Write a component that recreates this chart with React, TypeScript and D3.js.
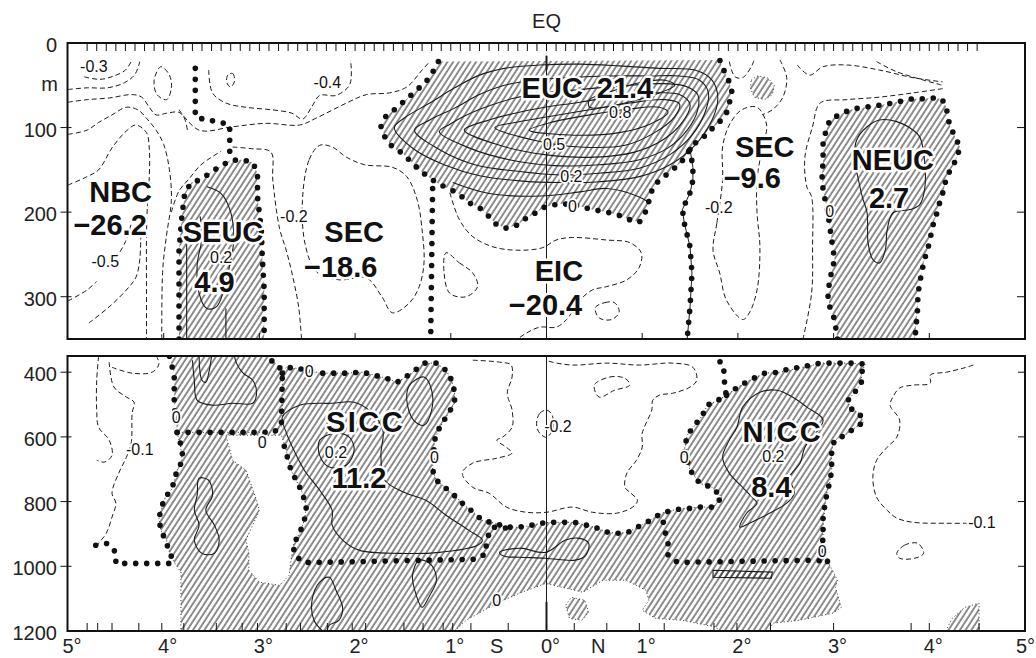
import * as d3 from 'd3'

type P = [number, number]

// axis ticks / labels (x = latitude, negative = south; y = depth in m)
const upperDepthTicks = [0, 100, 200, 300]
const lowerDepthTicks = [400, 600, 800, 1000, 1200]
const upperRightTicks = [100, 200, 300]
const lowerRightTicks = [400, 600, 800, 1000]
const degreeTicks = [-4, -3, -2, -1, 0, 1, 2, 3, 4]
const stationTicks = [-4.8, -4.69, -4.54, -4.26, -4.02, -3.79, -3.45, -3.18, -3.02, -2.72, -2.57, -2.29, -2.03, -1.89, -1.49, -1.29, -1.08, -0.98, -0.79, -0.4, 0, 0.29, 0.63, 0.97, 1.23, 1.75, 1.99, 2.34, 3.0, 3.81, 4.0, 4.52]
const latLabels: [number, string][] = [[-5, '5°'], [-4, '4°'], [-3, '3°'], [-2, '2°'], [-1, '1°'], [0, '0°'], [1, '1°'], [2, '2°'], [3, '3°'], [4, '4°'], [5, '5°']]
const hemiLabels: [number, string][] = [[-0.52, 'S'], [0.54, 'N']]

// ---------- upper panel (0-350 m) ----------
const eucHatch: P[] = [[-1.13,22],[-1.22,41],[-1.33,53],[-1.45,65],[-1.57,77],[-1.68,87],[-1.73,99],[-1.69,111],[-1.61,123],[-1.51,130],[-1.41,141],[-1.33,150],[-1.24,158],[-1.15,165],[-1.05,171],[-0.93,177],[-0.81,189],[-0.70,195],[-0.62,203],[-0.52,215],[-0.42,219],[-0.30,215],[-0.21,207],[-0.10,200],[-0.02,194],[0.14,190],[0.27,191],[0.38,194],[0.48,197],[0.63,200],[0.74,203],[0.87,209],[0.97,212],[1.03,201],[1.06,191],[1.08,183],[1.11,171],[1.18,162],[1.32,150],[1.42,139],[1.50,126],[1.58,115],[1.67,109],[1.74,100],[1.81,93],[1.88,83],[1.91,71],[1.94,59],[1.91,46],[1.86,34],[1.81,20]]
const seucBox: P[] = [[-3.84,350],[-3.84,290],[-3.84,245],[-3.81,205],[-3.78,177],[-3.71,165],[-3.60,161],[-3.50,152],[-3.39,145],[-3.31,139],[-3.18,138],[-3.07,141],[-3.02,154],[-3.02,182],[-2.98,221],[-2.97,253],[-2.95,292],[-2.95,350]]
const nbcDivide: P[] = [[-3.67,30],[-3.67,87],[-3.56,91],[-3.43,93],[-3.31,97],[-3.31,120],[-3.31,139]]
const eicDivide: P[] = [[-1.19,172],[-1.20,260],[-1.21,350]]
const secEastDivide: P[] = [[1.50,126],[1.53,147],[1.53,162],[1.50,177],[1.42,197],[1.44,213],[1.50,241],[1.52,272],[1.50,312],[1.47,350]]
const neucBox: P[] = [[3.04,350],[3.01,327],[2.96,312],[2.94,298],[2.96,280],[3.01,256],[2.99,241],[2.96,217],[2.94,201],[2.89,174],[2.88,158],[2.89,138],[2.89,115],[2.96,91],[3.09,83],[3.20,78],[3.33,76],[3.45,74],[3.57,72],[3.69,69],[3.82,66],[3.92,66],[4.03,65],[4.13,66],[4.18,76],[4.19,87],[4.22,99],[4.27,111],[4.32,123],[4.29,135],[4.24,147],[4.18,158],[4.15,174],[4.11,188],[4.08,201],[4.04,215],[3.99,241],[3.95,256],[3.92,271],[3.90,284],[3.88,298],[3.88,312],[3.87,325],[3.85,350]]
const upperBlob: P[] = [[2.14,44],[2.20,39],[2.31,41],[2.38,50],[2.36,61],[2.28,67],[2.17,64],[2.13,53]]

// EUC solid isotachs, outer to core
const eucLoops: P[][] = [
  [[-1.59,100],[-1.38,126],[-1.07,144],[-0.70,157],[-0.28,163],[0.14,165],[0.55,164],[0.97,158],[1.29,144],[1.55,121],[1.73,91],[1.79,65],[1.73,44],[1.55,32],[1.18,30],[0.76,27],[0.35,25],[-0.07,26],[-0.44,30],[-0.70,38],[-0.96,53],[-1.22,71],[-1.49,89]],
  [[-1.38,103],[-1.12,126],[-0.75,144],[-0.28,152],[0.14,156],[0.55,154],[0.97,148],[1.29,132],[1.52,109],[1.66,81],[1.69,58],[1.60,44],[1.39,39],[1.08,39],[0.66,39],[0.24,41],[-0.13,44],[-0.44,50],[-0.70,61],[-0.96,77],[-1.22,91]],
  [[-1.12,105],[-0.81,124],[-0.39,138],[0.08,145],[0.55,144],[0.97,138],[1.27,124],[1.47,103],[1.58,79],[1.58,61],[1.45,51],[1.18,48],[0.76,51],[0.35,55],[-0.02,59],[-0.33,65],[-0.59,74],[-0.85,86],[-1.01,96]],
  [[-0.86,103],[-0.49,121],[-0.02,132],[0.50,135],[0.92,129],[1.21,115],[1.41,95],[1.50,73],[1.39,61],[1.13,59],[0.76,62],[0.35,70],[-0.02,76],[-0.33,83],[-0.60,91]],
  [[-0.54,100],[-0.13,115],[0.35,123],[0.82,121],[1.13,106],[1.34,87],[1.39,72],[1.24,67],[0.87,71],[0.45,79],[0.03,87],[-0.33,94]],
  [[-0.18,103],[0.29,109],[0.76,106],[1.08,96],[1.27,82],[1.18,76],[0.87,78],[0.45,85],[0.08,93]],
  [[0.45,76],[0.82,71],[1.13,61],[1.34,50],[1.24,44],[0.97,47],[0.66,58],[0.45,67]],
]
const eucZero: P[] = [[-0.98,165],[-0.60,178],[-0.07,181],[0.35,176],[0.63,172],[0.97,182],[1.06,188]]
const neucCore: P[] = [[3.24,115],[3.35,99],[3.48,91],[3.66,93],[3.83,103],[3.90,111],[3.95,138],[3.95,174],[3.90,191],[3.80,197],[3.62,201],[3.56,221],[3.54,245],[3.48,260],[3.41,256],[3.36,236],[3.35,201],[3.30,182],[3.26,162],[3.22,138]]
const seucCore: P[] = [[-3.55,170],[-3.40,178],[-3.30,200],[-3.27,235],[-3.32,268],[-3.37,292],[-3.45,312],[-3.55,314],[-3.63,296],[-3.65,262],[-3.60,230],[-3.62,205]]
const seucStems: P[][] = [[[-3.76,238],[-3.76,350]], [[-3.35,314],[-3.35,350]]]

const upperDashed: P[][] = [
  [[-4.83,40],[-4.67,43],[-4.52,39],[-4.40,32],[-4.33,20]],
  [[-5,55],[-4.80,53],[-4.59,53],[-4.41,47],[-4.30,37],[-4.25,22]],
  [[-5,70],[-4.80,67],[-4.57,65],[-4.33,61],[-4.23,64],[-4.15,76],[-4.08,85],[-3.97,83],[-3.84,82],[-3.78,90],[-3.75,105]],
  [[-5,108],[-4.80,103],[-4.68,94],[-4.54,85],[-4.39,76],[-4.27,79],[-4.18,89],[-4.08,103],[-4.00,120],[-3.94,150],[-3.92,186],[-3.97,227],[-4.01,268],[-4.02,350]],
  [[-5,168],[-4.80,158],[-4.68,150],[-4.54,124],[-4.39,104],[-4.29,97],[-4.18,106],[-4.15,126],[-4.15,156],[-4.17,191],[-4.18,233],[-4.18,292],[-4.18,350]],
  [[-4.78,331],[-4.57,312],[-4.39,292],[-4.29,277],[-4.25,256],[-4.24,230]],
  [[-5,305],[-4.80,292],[-4.70,282]],
  [[-4.50,255],[-4.40,235],[-4.33,210]],
  [[-3.92,200],[-3.84,175],[-3.73,160],[-3.62,145],[-3.50,135],[-3.40,128]],
  [[-3.53,32],[-3.49,59],[-3.35,71],[-3.14,76],[-2.87,79],[-2.66,83],[-2.55,90],[-2.45,75],[-2.37,62],[-2.20,62],[-2.06,50],[-2.04,30],[-2.05,20]],
  [[-3.28,123],[-3.08,125],[-2.88,129],[-2.86,162],[-2.79,219],[-2.72,245],[-2.66,272],[-2.59,312],[-2.56,350]],
  [[-3.84,79],[-3.63,103],[-3.28,99],[-2.93,95],[-2.58,97],[-2.41,89],[-2.09,71],[-1.88,61],[-1.64,59],[-1.46,52],[-1.30,32],[-1.22,22]],
  [[-1.01,177],[-0.91,209],[-0.77,229],[-0.56,241],[-0.31,245],[-0.04,242],[0.10,233],[0.27,230],[0.63,233],[0.87,236],[0.99,248],[0.97,265],[0.84,280],[0.63,288],[0.48,292],[0.35,304],[0.21,327],[0.10,336],[-0.07,336],[-0.21,343],[-0.30,350]],
  [[1.91,22],[1.97,40],[2.05,41],[2.14,28],[2.17,20]],
  [[2.44,20],[2.51,41],[2.47,64],[2.36,79],[2.25,85]],
  [[4.14,54],[3.83,59],[3.48,64],[3.14,67],[2.86,71],[2.78,99],[2.70,135],[2.72,170],[2.77,182],[2.78,241],[2.77,296],[2.68,350]],
  [[2.62,26],[2.75,38],[2.89,28],[3.14,26],[3.48,32],[3.83,41],[4.14,46]],
  [[3.45,22],[3.66,34],[4.14,50]],
]
const upperDashedLoops: P[][] = [
  [[-2.55,186],[-2.48,138],[-2.37,121],[-2.24,123],[-2.09,135],[-1.90,144],[-1.61,147],[-1.46,158],[-1.35,186],[-1.30,221],[-1.28,260],[-1.33,288],[-1.43,307],[-1.61,319],[-1.72,300],[-1.88,278],[-2.17,280],[-2.40,271],[-2.52,239]],
  [[-3.33,38],[-3.28,36],[-3.26,45],[-3.30,52],[-3.34,47]],
  [[-4.03,28],[-3.94,38],[-3.92,53],[-3.97,67],[-4.07,61],[-4.10,44]],
  [[-1.05,248],[-0.91,260],[-0.77,272],[-0.72,288],[-0.84,300],[-1.01,296],[-1.07,272]],
  [[0.51,313],[0.61,307],[0.71,307],[0.76,318],[0.68,327],[0.55,325]],
  [[1.84,162],[1.78,213],[1.74,245],[1.81,272],[1.88,304],[2.05,327],[2.12,319],[2.20,292],[2.23,241],[2.20,201],[2.20,162],[2.25,126],[2.30,97],[2.20,76],[2.04,79],[1.91,97],[1.84,123]],
]

// ---------- lower panel (350-1200 m) ----------
const seucLowerHatch: P[] = [[-3.94,350],[-2.93,350],[-2.80,378],[-2.76,403],[-2.76,564],[-2.85,586],[-3.86,586],[-3.89,496],[-3.89,409]]
const lowerHatch: P[] = [[-3.86,586],[-3.82,635],[-3.81,672],[-3.86,703],[-3.91,759],[-4.00,796],[-4.05,851],[-4.03,889],[-3.97,919],[-3.94,957],[-3.89,988],[-3.82,1018],[-3.82,1200],[-0.96,1200],[-0.84,1167],[-0.52,1114],[-0.28,1083],[-0.01,1053],[0.38,1080],[0.59,1043],[0.83,1043],[1.04,1074],[1.07,1105],[1.00,1136],[1.14,1161],[1.42,1167],[1.77,1188],[1.81,1200],[2.33,1200],[2.36,1176],[2.64,1167],[2.99,1145],[3.08,1127],[3.02,1065],[3.04,1043],[2.95,991],[2.89,941],[2.89,879],[2.91,811],[2.93,774],[2.96,740],[2.98,703],[2.98,641],[3.01,610],[3.12,595],[3.22,573],[3.31,555],[3.27,527],[3.17,511],[3.15,487],[3.22,462],[3.29,434],[3.29,403],[3.33,375],[3.14,372],[2.89,372],[2.67,385],[2.44,400],[2.28,403],[2.12,425],[2.00,446],[1.88,471],[1.79,487],[1.68,502],[1.63,533],[1.55,564],[1.47,595],[1.44,641],[1.50,703],[1.60,743],[1.73,756],[1.83,787],[1.74,817],[1.58,817],[1.36,824],[1.23,833],[1.13,848],[1.05,864],[0.95,879],[0.85,895],[0.74,898],[0.64,895],[0.53,882],[0.42,873],[0.29,864],[0.17,864],[0.05,864],[-0.07,867],[-0.20,876],[-0.31,879],[-0.42,879],[-0.54,867],[-0.67,858],[-0.75,836],[-0.86,811],[-0.94,787],[-1.05,759],[-1.15,734],[-1.19,703],[-1.17,610],[-1.12,573],[-1.05,539],[-0.96,496],[-0.96,462],[-0.99,425],[-1.05,394],[-1.15,372],[-1.28,372],[-1.41,403],[-1.56,431],[-1.67,419],[-1.92,400],[-2.11,403],[-2.35,403],[-2.60,388],[-2.72,385],[-2.76,403],[-2.76,564],[-2.85,586]]
const lowerNotch: P[] = [[-3.35,595],[-2.77,595],[-2.72,641],[-2.67,703],[-2.60,743],[-2.55,774],[-2.51,817],[-2.53,858],[-2.58,898],[-2.64,929],[-2.66,960],[-2.69,1028],[-2.79,1059],[-3.00,1049],[-3.11,1012],[-3.11,960],[-3.14,919],[-3.08,879],[-3.00,827],[-3.03,796],[-3.14,703],[-3.28,672]]
const lowerBlobs: P[][] = [
  [[0.20,1120],[0.26,1096],[0.40,1105],[0.44,1142],[0.37,1167],[0.24,1161]],
  [[4.17,1200],[4.24,1161],[4.37,1127],[4.52,1114],[4.52,1200]],
]
const lowerBar: P[] = [[1.74,1012],[2.36,1018],[2.35,1037],[1.74,1034]]

const lowerDots: P[][] = [
  [[-3.94,351],[-3.89,409],[-3.89,496],[-3.88,540],[-3.86,586],[-3.81,635],[-3.80,672],[-3.86,703],[-3.91,756],[-4.00,796],[-4.05,851],[-4.03,889],[-3.98,919],[-3.94,957],[-3.89,988]],
  [[-3.86,586],[-2.85,586],[-2.77,564],[-2.76,403],[-2.80,378],[-2.93,354]],
  [[-4.71,935],[-4.59,929],[-4.50,957],[-4.50,991],[-3.89,991]],
  [[-2.76,403],[-2.72,385],[-2.60,388],[-2.35,403],[-2.11,403],[-1.92,400],[-1.67,419],[-1.56,431],[-1.41,403],[-1.28,372],[-1.15,372],[-1.05,394],[-0.99,425],[-0.96,462],[-0.96,496],[-1.05,539],[-1.12,573],[-1.17,610],[-1.19,703],[-1.15,734],[-1.05,759],[-0.94,787],[-0.86,811],[-0.75,836],[-0.67,858],[-0.54,867],[-0.42,879],[-0.31,879],[-0.20,876],[-0.07,867],[0.05,864],[0.17,864],[0.29,864],[0.42,873],[0.53,882],[0.64,895],[0.74,898],[0.85,895],[0.95,879],[1.05,864],[1.13,848],[1.23,833],[1.36,824],[1.50,821],[1.58,817],[1.74,817],[1.83,787],[1.73,756],[1.60,743],[1.50,703],[1.44,641],[1.47,595],[1.55,564],[1.63,533],[1.68,502],[1.79,487],[1.88,471],[1.86,446],[1.86,409],[1.84,372],[1.74,357]],
  [[-2.74,629],[-2.67,703],[-2.60,743],[-2.55,774],[-2.51,817],[-2.53,858],[-2.58,898],[-2.64,929],[-2.64,960],[-2.55,988],[-2.41,988],[-0.73,978],[-0.63,960],[-0.63,929],[-0.60,898],[-0.56,879],[-0.42,882]],
  [[1.88,471],[2.00,446],[2.12,425],[2.28,403],[2.44,400],[2.54,388],[2.67,385],[2.78,375],[2.89,372],[3.01,372],[3.14,372],[3.24,372],[3.33,375],[3.29,403],[3.29,434],[3.22,462],[3.15,487],[3.17,511],[3.27,527],[3.31,555],[3.22,573],[3.12,595],[3.01,610],[2.98,641],[2.98,703],[2.96,740],[2.93,774],[2.91,811],[2.89,842],[2.89,879],[2.89,910],[2.88,941],[2.94,988]],
  [[1.22,864],[1.24,895],[1.27,929],[1.27,966],[1.37,988],[2.81,981],[2.94,988]],
]
const lowerDashed: P[][] = [
  [[-4.68,351],[-4.70,425],[-4.70,517],[-4.68,570],[-4.57,610],[-4.54,657],[-4.62,678],[-4.70,672]],
  [[-4.57,369],[-4.52,446],[-4.39,477],[-4.31,493],[-4.33,527],[-4.34,620],[-4.39,663],[-4.47,712],[-4.54,774],[-4.50,805],[-4.54,848],[-4.60,898],[-4.68,929],[-4.71,944]],
  [[-4.54,385],[-4.33,403],[-4.12,400],[-4.05,375],[-4.07,354]],
  [[4.46,378],[4.35,388],[4.18,400],[4.01,409],[4.01,434],[3.83,440],[3.69,449],[3.62,477],[3.59,502],[3.69,548],[3.66,601],[3.56,632],[3.45,672],[3.41,725],[3.45,787],[3.56,827],[3.66,851],[3.83,864],[4.18,867],[4.39,867]],
  [[-0.77,363],[-0.49,369],[-0.37,378],[-0.36,415],[-0.41,465],[-0.36,517],[-0.36,570],[-0.46,601],[-0.52,610],[-0.42,632],[-0.36,650],[-0.52,666],[-0.77,681],[-0.88,712],[-0.77,756],[-0.60,774],[-0.42,817],[-0.21,833],[0,833],[0.27,817],[0.48,833],[0.73,836],[0.90,817],[0.95,796],[0.87,771],[0.82,756],[0.84,712],[0.94,672],[1.00,632],[1.00,589],[1.10,517],[1.11,487],[1.18,471],[1.32,465],[1.50,446],[1.57,425],[1.53,385],[1.32,372],[0.97,378],[0.63,372],[0.27,378],[0.06,369],[0,363]],
]
const lowerDashedLoops: P[][] = [
  [[-0.10,548],[-0.07,527],[0,517],[0.06,533],[0.06,579],[0,601],[-0.07,589],[-0.10,570]],
  [[0.50,440],[0.66,415],[0.82,419],[0.87,440],[0.71,456],[0.55,477]],
  [[3.66,960],[3.74,935],[3.88,929],[3.94,960],[3.85,975],[3.69,975]],
]
const lowerSolid: P[][] = [
  [[-3.70,363],[-3.68,425],[-3.65,487],[-3.49,502],[-3.28,496],[-3.07,496],[-3.03,465],[-3.07,425],[-3.17,403],[-3.24,372],[-3.26,351]],
  [[-3.63,351],[-3.60,425],[-3.56,431],[-3.53,403],[-3.50,351]],
  [[-2.34,1200],[-2.43,1167],[-2.45,1105],[-2.37,1049],[-2.27,1034],[-2.20,1074],[-2.13,1130],[-2.17,1167],[-2.27,1182],[-2.29,1200]],
]
const lowerSolidLoops: P[][] = [
  [[-2.76,539],[-2.58,502],[-2.24,496],[-2.01,493],[-1.83,524],[-1.71,579],[-1.73,657],[-1.69,734],[-1.49,771],[-1.26,796],[-1.05,842],[-0.81,889],[-0.67,919],[-0.72,935],[-1.12,957],[-1.54,960],[-1.96,950],[-2.13,919],[-2.24,873],[-2.24,827],[-2.37,765],[-2.53,703],[-2.64,641],[-2.72,586]],
  [[-2.37,610],[-2.21,589],[-2.06,601],[-2.01,641],[-2.09,687],[-2.27,693],[-2.37,657]],
  [[-1.43,440],[-1.28,415],[-1.20,456],[-1.20,517],[-1.28,564],[-1.39,548],[-1.46,487]],
  [[-3.63,728],[-3.53,734],[-3.49,780],[-3.56,827],[-3.47,873],[-3.42,919],[-3.47,960],[-3.60,960],[-3.68,919],[-3.63,873],[-3.68,827],[-3.65,780]],
  [[-1.33,981],[-1.40,1028],[-1.36,1090],[-1.30,1127],[-1.22,1090],[-1.15,1043],[-1.20,997]],
  [[-0.49,957],[-0.28,944],[-0.01,957],[0.20,919],[0.33,913],[0.44,929],[0.41,966],[0.30,981],[-0.01,975],[-0.28,972],[-0.44,969]],
  [[2.23,462],[2.41,456],[2.57,477],[2.72,508],[2.89,548],[2.70,632],[2.65,681],[2.54,725],[2.59,774],[2.51,805],[2.33,836],[2.12,867],[2.02,879],[2.09,836],[2.20,805],[2.15,787],[2.05,756],[1.91,712],[1.84,663],[1.91,610],[1.99,570],[2.05,508]],
]

// labels: [text, lat, depth of baseline]
const upperBig: [string, number, number][] = [['NBC',-4.45,188],['−26.2',-4.56,227],['SEUC',-3.38,235],['4.9',-3.47,294],['SEC',-2.01,235],['−18.6',-2.15,277],['EIC',0.13,282],['−20.4',-0.01,322],['EUC',0.06,65],['21.4',0.82,65],['SEC',2.28,135],['−9.6',2.15,171],['NEUC',3.62,150],['2.7',3.58,195]]
const lowerBig: [string, number, number][] = [['SICC',-1.89,586],['11.2',-1.96,759],['NICC',2.47,616],['8.4',2.35,787]]
const upperSmall: [string, number, number][] = [['-0.3',-4.73,34],['-0.4',-2.29,53],['0.8',0.77,89],['0.5',0.08,126],['0.2',0.26,164],['0',0.27,200],['-0.5',-4.61,265],['0.2',-3.40,260],['-0.2',-2.64,212],['-0.2',1.80,201],['0',2.96,206]]
const lowerSmall: [string, number, number][] = [['0',-3.87,558],['0',-2.48,415],['0',-2.97,635],['0',-1.17,681],['0',1.44,681],['0',2.88,972],['0',-0.52,1124],['0.2',-2.20,666],['0.2',2.37,678],['-0.1',-4.25,657],['-0.1',4.55,882],['-0.2',0.12,586]]
const spacedLabels = new Set(['SICC', 'NICC'])

export default function App() {
  const W = 1036
  const H = 658
  const ink = '#1c1c1c'
  const font = "'Liberation Sans', Arial, Helvetica, sans-serif"

  const x = d3.scaleLinear().domain([-5, 5]).range([68, 1025])
  const yU = d3.scaleLinear().domain([0, 350]).range([43, 339])
  const yL = d3.scaleLinear().domain([350, 1200]).range([356, 631])

  const gen = (y: d3.ScaleLinear<number, number>, curve: d3.CurveFactory) =>
    d3.line<P>().x(d => x(d[0])).y(d => y(d[1])).curve(curve)

  const uPoly = gen(yU, d3.curveLinearClosed)
  const uLine = gen(yU, d3.curveLinear)
  const uSmooth = gen(yU, d3.curveCatmullRom.alpha(0.5))
  const uLoop = gen(yU, d3.curveCatmullRomClosed.alpha(0.5))
  const lPoly = gen(yL, d3.curveLinearClosed)
  const lLine = gen(yL, d3.curveLinear)
  const lSmooth = gen(yL, d3.curveCatmullRom.alpha(0.5))
  const lLoop = gen(yL, d3.curveCatmullRomClosed.alpha(0.5))

  const x0 = x(-5) - 0.5
  const x1 = x(5)
  const dashed = { fill: 'none', stroke: ink, strokeWidth: 1, strokeDasharray: '5 3' }
  const solid = { fill: 'none', stroke: ink, strokeWidth: 1.1 }
  const dots = { fill: 'none', stroke: '#111', strokeWidth: 5.6, strokeDasharray: '0 11', strokeLinecap: 'round' as const }
  const fine = { fill: 'none', stroke: '#333', strokeWidth: 1, strokeDasharray: '1 2.5' }
  const halo = { paintOrder: 'stroke', stroke: '#fff', strokeLinejoin: 'round' as const }

  const bigText = (t: [string, number, number], y: d3.ScaleLinear<number, number>, k: number) => (
    <text key={k} x={x(t[1])} y={y(t[2])} textAnchor="middle" fontSize={29} fontWeight="bold" fill="#111"
      letterSpacing={spacedLabels.has(t[0]) ? 2.5 : 0} style={halo} strokeWidth={5}>{t[0]}</text>
  )
  const smallText = (t: [string, number, number], y: d3.ScaleLinear<number, number>, k: number) => (
    <text key={k} x={x(t[1])} y={y(t[2])} textAnchor="middle" fontSize={16} fill="#111" style={halo} strokeWidth={3.5}>{t[0]}</text>
  )

  return (
    <svg width={W} height={H} style={{ position: 'absolute', left: 0, top: 0, background: '#fff' }} fontFamily={font}>
      <defs>
        <pattern id="hatch" width="4.8" height="4.8" patternUnits="userSpaceOnUse" patternTransform="rotate(33)">
          <line x1="1" y1="-1" x2="1" y2="6" stroke="#111" strokeWidth="0.95" />
        </pattern>
        <clipPath id="clipU"><rect x={x0} y={yU(0)} width={x1 - x0} height={yU(350) - yU(0)} /></clipPath>
        <clipPath id="clipL"><rect x={x0} y={yL(350)} width={x1 - x0} height={yL(1200) - yL(350)} /></clipPath>
      </defs>
      <rect width={W} height={H} fill="#fff" />

      {/* upper panel */}
      <g clipPath="url(#clipU)">
        <path d={uPoly(eucHatch)!} fill="url(#hatch)" />
        <path d={uPoly(seucBox)!} fill="url(#hatch)" />
        <path d={uPoly(neucBox)!} fill="url(#hatch)" />
        <path d={uPoly(upperBlob)!} fill="url(#hatch)" />
        <path d={uPoly(upperBlob)!} {...fine} />
        {upperDashed.map((c, i) => <path key={'ud' + i} d={uSmooth(c)!} {...dashed} />)}
        {upperDashedLoops.map((c, i) => <path key={'udl' + i} d={uLoop(c)!} {...dashed} />)}
        {eucLoops.map((c, i) => <path key={'eu' + i} d={uLoop(c)!} {...solid} />)}
        <path d={uSmooth(eucZero)!} {...solid} />
        <path d={uLoop(neucCore)!} {...solid} />
        <path d={uSmooth(seucCore)!} {...solid} />
        {seucStems.map((c, i) => <path key={'st' + i} d={uLine(c)!} {...solid} />)}
        <line x1={x(0)} x2={x(0)} y1={yU(15)} y2={yU(350)} stroke={ink} strokeWidth={1} />
        <line x1={x(0)} x2={x(0)} y1={yU(15)} y2={yU(32)} stroke={ink} strokeWidth={2} />
        <path d={uLine(secEastDivide)!} fill="none" stroke={ink} strokeWidth={1} />
        {[eucHatch, seucBox, nbcDivide, eicDivide, secEastDivide, neucBox].map((c, i) => (
          <path key={'ub' + i} d={uLine(c)!} {...dots} />
        ))}
      </g>

      {/* lower panel */}
      <g clipPath="url(#clipL)">
        <path d={lPoly(seucLowerHatch)!} fill="url(#hatch)" />
        <path d={lPoly(lowerHatch)!} fill="url(#hatch)" />
        <path d={lPoly(lowerHatch)!} {...fine} />
        <path d={lPoly(lowerNotch)!} fill="#fff" />
        <path d={lPoly(lowerNotch)!} {...fine} />
        {lowerBlobs.map((c, i) => (
          <g key={'lb' + i}>
            <path d={lPoly(c)!} fill="url(#hatch)" />
            <path d={lPoly(c)!} {...fine} />
          </g>
        ))}
        <path d={lPoly(lowerBar)!} fill="url(#hatch)" stroke={ink} strokeWidth={1.1} />
        {lowerDashed.map((c, i) => <path key={'ld' + i} d={lSmooth(c)!} {...dashed} />)}
        {lowerDashedLoops.map((c, i) => <path key={'ldl' + i} d={lLoop(c)!} {...dashed} />)}
        {lowerSolid.map((c, i) => <path key={'ls' + i} d={lSmooth(c)!} {...solid} />)}
        {lowerSolidLoops.map((c, i) => <path key={'lsl' + i} d={lLoop(c)!} {...solid} />)}
        <line x1={x(0)} x2={x(0)} y1={yL(350)} y2={yL(1200)} stroke={ink} strokeWidth={1} />
        <line x1={x(0)} x2={x(0)} y1={yL(1110)} y2={yL(1200)} stroke={ink} strokeWidth={2} />
        {lowerDots.map((c, i) => <path key={'lbd' + i} d={lLine(c)!} {...dots} />)}
      </g>

      {/* frames */}
      <rect x={x0} y={yU(0)} width={x1 - x0} height={yU(350) - yU(0)} fill="none" stroke="#111" strokeWidth={2} />
      <rect x={x0} y={yL(350)} width={x1 - x0} height={yL(1200) - yL(350)} fill="none" stroke="#111" strokeWidth={2} />

      {/* ticks */}
      {d3.range(-48, 46).map(i => (
        <line key={'tt' + i} x1={x(i / 10)} x2={x(i / 10)} y1={yU(0)} y2={yU(0) + 8} stroke="#111" strokeWidth={1} />
      ))}
      {degreeTicks.map(d => (
        <line key={'dt' + d} x1={x(d)} x2={x(d)} y1={yU(350)} y2={yU(350) - 6} stroke="#111" strokeWidth={1} />
      ))}
      {stationTicks.map((d, i) => (
        <line key={'sb' + i} x1={x(d)} x2={x(d)} y1={yL(1200)} y2={yL(1200) - 8} stroke="#111" strokeWidth={1} />
      ))}
      {upperDepthTicks.filter(t => t > 0).map(t => (
        <line key={'ly' + t} x1={x0 - 7} x2={x0 + 4} y1={yU(t)} y2={yU(t)} stroke="#111" strokeWidth={1} />
      ))}
      {lowerDepthTicks.filter(t => t < 1200).map(t => (
        <line key={'lly' + t} x1={x0 - 7} x2={x0 + 4} y1={yL(t)} y2={yL(t)} stroke="#111" strokeWidth={1} />
      ))}
      {upperRightTicks.map(t => (
        <line key={'ry' + t} x1={x1 - 8} x2={x1} y1={yU(t)} y2={yU(t)} stroke="#111" strokeWidth={1} />
      ))}
      {lowerRightTicks.map(t => (
        <line key={'rly' + t} x1={x1 - 7} x2={x1} y1={yL(t)} y2={yL(t)} stroke="#111" strokeWidth={1} />
      ))}

      {/* axis labels */}
      {upperDepthTicks.map(t => (
        <text key={'yl' + t} x={57} y={yU(t) + 9} textAnchor="end" fontSize={20} fill="#222">{t}</text>
      ))}
      {lowerDepthTicks.map(t => (
        <text key={'yll' + t} x={57} y={yL(t) + 9} textAnchor="end" fontSize={20} fill="#222">{t}</text>
      ))}
      <text x={58} y={91} textAnchor="end" fontSize={20} fill="#222">m</text>
      {latLabels.map(([d, t], i) => {
        const atEdge = x(d) + 14 > W
        return (
          <text key={'xl' + i} x={atEdge ? W - 1 : x(d) - 5.6} y={653} textAnchor={atEdge ? 'end' : 'start'} fontSize={20} fill="#222">{t}</text>
        )
      })}
      {hemiLabels.map(([d, t]) => (
        <text key={'hl' + t} x={x(d)} y={653} textAnchor="middle" fontSize={20} fill="#222">{t}</text>
      ))}
      <text x={x(0)} y={28} textAnchor="middle" fontSize={20} fill="#222">EQ</text>

      {/* annotations */}
      {upperSmall.map((t, i) => smallText(t, yU, i))}
      {lowerSmall.map((t, i) => smallText(t, yL, 100 + i))}
      {upperBig.map((t, i) => bigText(t, yU, 200 + i))}
      {lowerBig.map((t, i) => bigText(t, yL, 300 + i))}
    </svg>
  )
}
